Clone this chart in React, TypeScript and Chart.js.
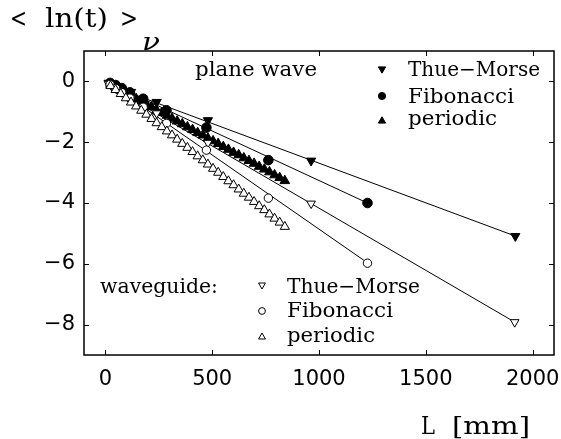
import React, { useEffect, useRef } from 'react';
import { Chart, registerables } from 'chart.js';

Chart.register(...registerables);

// ---- axis ticks ----
const xTicks = [0, 500, 1000, 1500, 2000];
const yTicks = [-8, -6, -4, -2, 0];

// ---- plane wave ----
const pwThueMorseL = [15, 30, 60, 120, 240, 480, 963, 1919];
const pwThueMorseV = [-0.05, -0.10, -0.18, -0.35, -0.68, -1.28, -2.61, -5.09];

const pwFibonacciL = [22, 48, 77, 115, 177, 286, 473, 763, 1227];
const pwFibonacciV = [-0.05, -0.12, -0.22, -0.36, -0.57, -0.95, -1.52, -2.59, -4.0];

const periodicL = [24, 48, 72, 96, 120, 144, 168, 192, 216, 240, 264, 288, 312, 336, 360, 384, 408, 432, 456, 480, 504, 528, 552, 576, 600, 624, 648, 672, 696, 720, 744, 768, 792, 816, 840];
const pwPeriodicV = [-0.10, -0.19, -0.30, -0.38, -0.46, -0.57, -0.66, -0.75, -0.84, -0.95, -1.03, -1.12, -1.22, -1.31, -1.40, -1.50, -1.59, -1.69, -1.77, -1.87, -1.96, -2.05, -2.15, -2.24, -2.34, -2.42, -2.52, -2.61, -2.70, -2.80, -2.89, -2.98, -3.08, -3.17, -3.27];

// ---- waveguide ----
const wgThueMorseL = [15, 30, 60, 120, 240, 480, 963, 1916];
const wgThueMorseV = [-0.08, -0.15, -0.28, -0.55, -1.05, -2.02, -4.02, -7.92];

const wgFibonacciL = [22, 48, 77, 115, 177, 286, 473, 763, 1227];
const wgFibonacciV = [-0.10, -0.23, -0.37, -0.55, -0.85, -1.38, -2.26, -3.84, -5.98];

const wgPeriodicV = [-0.15, -0.28, -0.41, -0.55, -0.69, -0.82, -0.96, -1.09, -1.23, -1.37, -1.50, -1.64, -1.77, -1.91, -2.05, -2.18, -2.32, -2.46, -2.59, -2.73, -2.87, -3.00, -3.14, -3.28, -3.41, -3.55, -3.69, -3.82, -3.96, -4.10, -4.23, -4.37, -4.51, -4.64, -4.78];

// ---- fitted straight lines (slope, intercept), in series order ----
const fitSlopes = [-0.00261, -0.00326, -0.0039, -0.00409, -0.00488, -0.00568];
const fitIntercepts = [-0.08, 0.0, 0.0, -0.08, 0.02, 0.0];

const zip = (xs: number[], ys: number[]) => xs.map((x, i) => ({ x, y: ys[i] }));

const SERIF = '"DejaVu Serif"';

type TextItem = { t: string; x: number; y: number; size: number; w: number; italic?: boolean };
const texts: TextItem[] = [
  { t: '<', x: 10, y: 27, size: 26, w: 17 },
  { t: 'ln(t)', x: 45, y: 27, size: 26, w: 63 },
  { t: '>', x: 120, y: 27, size: 26, w: 18 },
  { t: 'ν', x: 142, y: 50, size: 25, w: 18, italic: true },
  { t: 'L', x: 421, y: 434, size: 24, w: 14 },
  { t: '[mm]', x: 452, y: 434, size: 24, w: 78 },
  { t: 'plane wave', x: 195, y: 76, size: 20, w: 122 },
  { t: 'Thue−Morse', x: 408, y: 76, size: 20, w: 132 },
  { t: 'Fibonacci', x: 408, y: 103, size: 20, w: 106 },
  { t: 'periodic', x: 408, y: 125, size: 20, w: 89 },
  { t: 'waveguide:', x: 100, y: 293, size: 20, w: 118 },
  { t: 'Thue−Morse', x: 287, y: 293, size: 20, w: 133 },
  { t: 'Fibonacci', x: 287, y: 317, size: 20, w: 106 },
  { t: 'periodic', x: 287, y: 342, size: 20, w: 88 },
];

type MarkItem = { s: 'down' | 'up' | 'circle'; x: number; y: number; r: number; fill: boolean };
const legendMarks: MarkItem[] = [
  { s: 'down', x: 382, y: 69, r: 4.2, fill: true },
  { s: 'circle', x: 382, y: 96, r: 3.6, fill: true },
  { s: 'up', x: 382, y: 121, r: 4.2, fill: true },
  { s: 'down', x: 262, y: 285, r: 4, fill: false },
  { s: 'circle', x: 262, y: 311, r: 3.4, fill: false },
  { s: 'up', x: 262, y: 337, r: 4, fill: false },
];

function drawMark(ctx: CanvasRenderingContext2D, m: MarkItem) {
  ctx.save();
  ctx.beginPath();
  const { x, y, r } = m;
  if (m.s === 'circle') {
    ctx.arc(x, y, r, 0, Math.PI * 2);
  } else if (m.s === 'up') {
    ctx.moveTo(x, y - r);
    ctx.lineTo(x + r * 0.866, y + r / 2);
    ctx.lineTo(x - r * 0.866, y + r / 2);
    ctx.closePath();
  } else {
    ctx.moveTo(x, y + r);
    ctx.lineTo(x - r * 0.866, y - r / 2);
    ctx.lineTo(x + r * 0.866, y - r / 2);
    ctx.closePath();
  }
  ctx.fillStyle = m.fill ? '#000' : '#fff';
  ctx.fill();
  ctx.lineWidth = 1;
  ctx.strokeStyle = '#000';
  ctx.stroke();
  ctx.restore();
}

const decorPlugin = {
  id: 'decor',
  afterDraw(chart: any) {
    const ctx: CanvasRenderingContext2D = chart.ctx;
    const { left, right, top, bottom } = chart.chartArea;
    const xs = chart.scales.x;
    const ys = chart.scales.y;
    ctx.save();
    ctx.strokeStyle = '#000';
    ctx.lineWidth = 1.5;
    ctx.strokeRect(left, top, right - left, bottom - top);
    ctx.lineWidth = 1;
    ctx.beginPath();
    const tl = 5;
    xTicks.forEach((v) => {
      const px = Math.round(xs.getPixelForValue(v)) + 0.5;
      ctx.moveTo(px, bottom);
      ctx.lineTo(px, bottom - tl);
      ctx.moveTo(px, top);
      ctx.lineTo(px, top + tl);
    });
    yTicks.forEach((v) => {
      const py = Math.round(ys.getPixelForValue(v)) + 0.5;
      ctx.moveTo(left, py);
      ctx.lineTo(left + tl, py);
      ctx.moveTo(right, py);
      ctx.lineTo(right - tl, py);
    });
    ctx.stroke();

    ctx.fillStyle = '#000';
    ctx.textBaseline = 'alphabetic';
    ctx.textAlign = 'left';
    texts.forEach((it) => {
      ctx.save();
      ctx.font = `${it.italic ? 'italic ' : ''}${it.size}px ${SERIF}`;
      const w = ctx.measureText(it.t).width;
      ctx.translate(it.x, it.y);
      ctx.scale(it.w / w, 1);
      ctx.fillText(it.t, 0, 0);
      ctx.restore();
    });
    legendMarks.forEach((m) => drawMark(ctx, m));
    ctx.restore();
  },
};

const noPad = (s: any) => {
  s.paddingLeft = 0;
  s.paddingRight = 0;
  s.paddingTop = 0;
  s.paddingBottom = 0;
};

export default function App() {
  const ref = useRef<HTMLCanvasElement | null>(null);
  useEffect(() => {
    if (!ref.current) return;
    const lastX = (xs: number[]) => xs[xs.length - 1];
    const seriesEnds = [
      lastX(pwThueMorseL),
      lastX(pwFibonacciL),
      lastX(periodicL),
      lastX(wgThueMorseL),
      lastX(wgFibonacciL),
      lastX(periodicL),
    ];
    const lineSets = seriesEnds.map((end, i) => ({
      type: 'line' as const,
      data: [
        { x: 0, y: fitIntercepts[i] },
        { x: end, y: fitIntercepts[i] + fitSlopes[i] * end },
      ],
      borderColor: '#000',
      borderWidth: 1,
      pointRadius: 0,
      showLine: true,
      fill: false,
      order: 10,
    }));
    const mk = (data: any[], style: string, rot: number, filled: boolean, r: number) => ({
      type: 'scatter' as const,
      data,
      pointStyle: style,
      rotation: rot,
      pointRadius: r,
      pointBackgroundColor: filled ? '#000' : '#fff',
      pointBorderColor: '#000',
      pointBorderWidth: 1,
      showLine: false,
      order: 0,
    });
    const chart = new Chart(ref.current, {
      type: 'scatter',
      data: {
        datasets: [
          ...lineSets,
          mk(zip(periodicL, wgPeriodicV), 'triangle', 0, false, 5.3),
          mk(zip(wgFibonacciL, wgFibonacciV), 'circle', 0, false, 4.2),
          mk(zip(wgThueMorseL, wgThueMorseV), 'triangle', 180, false, 5),
          mk(zip(periodicL, pwPeriodicV), 'triangle', 0, true, 5.6),
          mk(zip(pwFibonacciL, pwFibonacciV), 'circle', 0, true, 4.8),
          mk(zip(pwThueMorseL, pwThueMorseV), 'triangle', 180, true, 5.3),
        ] as any,
      },
      options: {
        animation: false,
        responsive: false,
        devicePixelRatio: 1,
        layout: { padding: { left: 0, top: 51, right: 7, bottom: 0 } },
        plugins: { legend: { display: false }, tooltip: { enabled: false }, title: { display: false } },
        scales: {
          x: {
            type: 'linear',
            min: -100,
            max: 2100,
            grid: { display: false, drawTicks: false },
            border: { display: false },
            afterBuildTicks: (s: any) => { s.ticks = xTicks.map((v) => ({ value: v })); },
            afterFit: (s: any) => { s.height = 84; noPad(s); },
            ticks: {
              color: '#000',
              padding: 12,
              maxRotation: 0,
              autoSkip: false,
              font: { family: '"DejaVu Sans"', size: 21 },
              callback: (v: any) => String(v),
            },
          },
          y: {
            type: 'linear',
            min: -9,
            max: 1,
            grid: { display: false, drawTicks: false },
            border: { display: false },
            afterBuildTicks: (s: any) => { s.ticks = yTicks.map((v) => ({ value: v })); },
            afterFit: (s: any) => { s.width = 84; noPad(s); },
            ticks: {
              color: '#000',
              padding: 9,
              autoSkip: false,
              font: { family: '"DejaVu Sans"', size: 21 },
              callback: (v: any) => (v < 0 ? '−' + Math.abs(v) : String(v)),
            },
          },
        },
      } as any,
      plugins: [decorPlugin],
    });
    return () => chart.destroy();
  }, []);
  return (
    <canvas
      ref={ref}
      width={561}
      height={439}
      style={{ position: 'absolute', left: 0, top: 0, width: 561, height: 439, background: '#fff' }}
    />
  );
}
